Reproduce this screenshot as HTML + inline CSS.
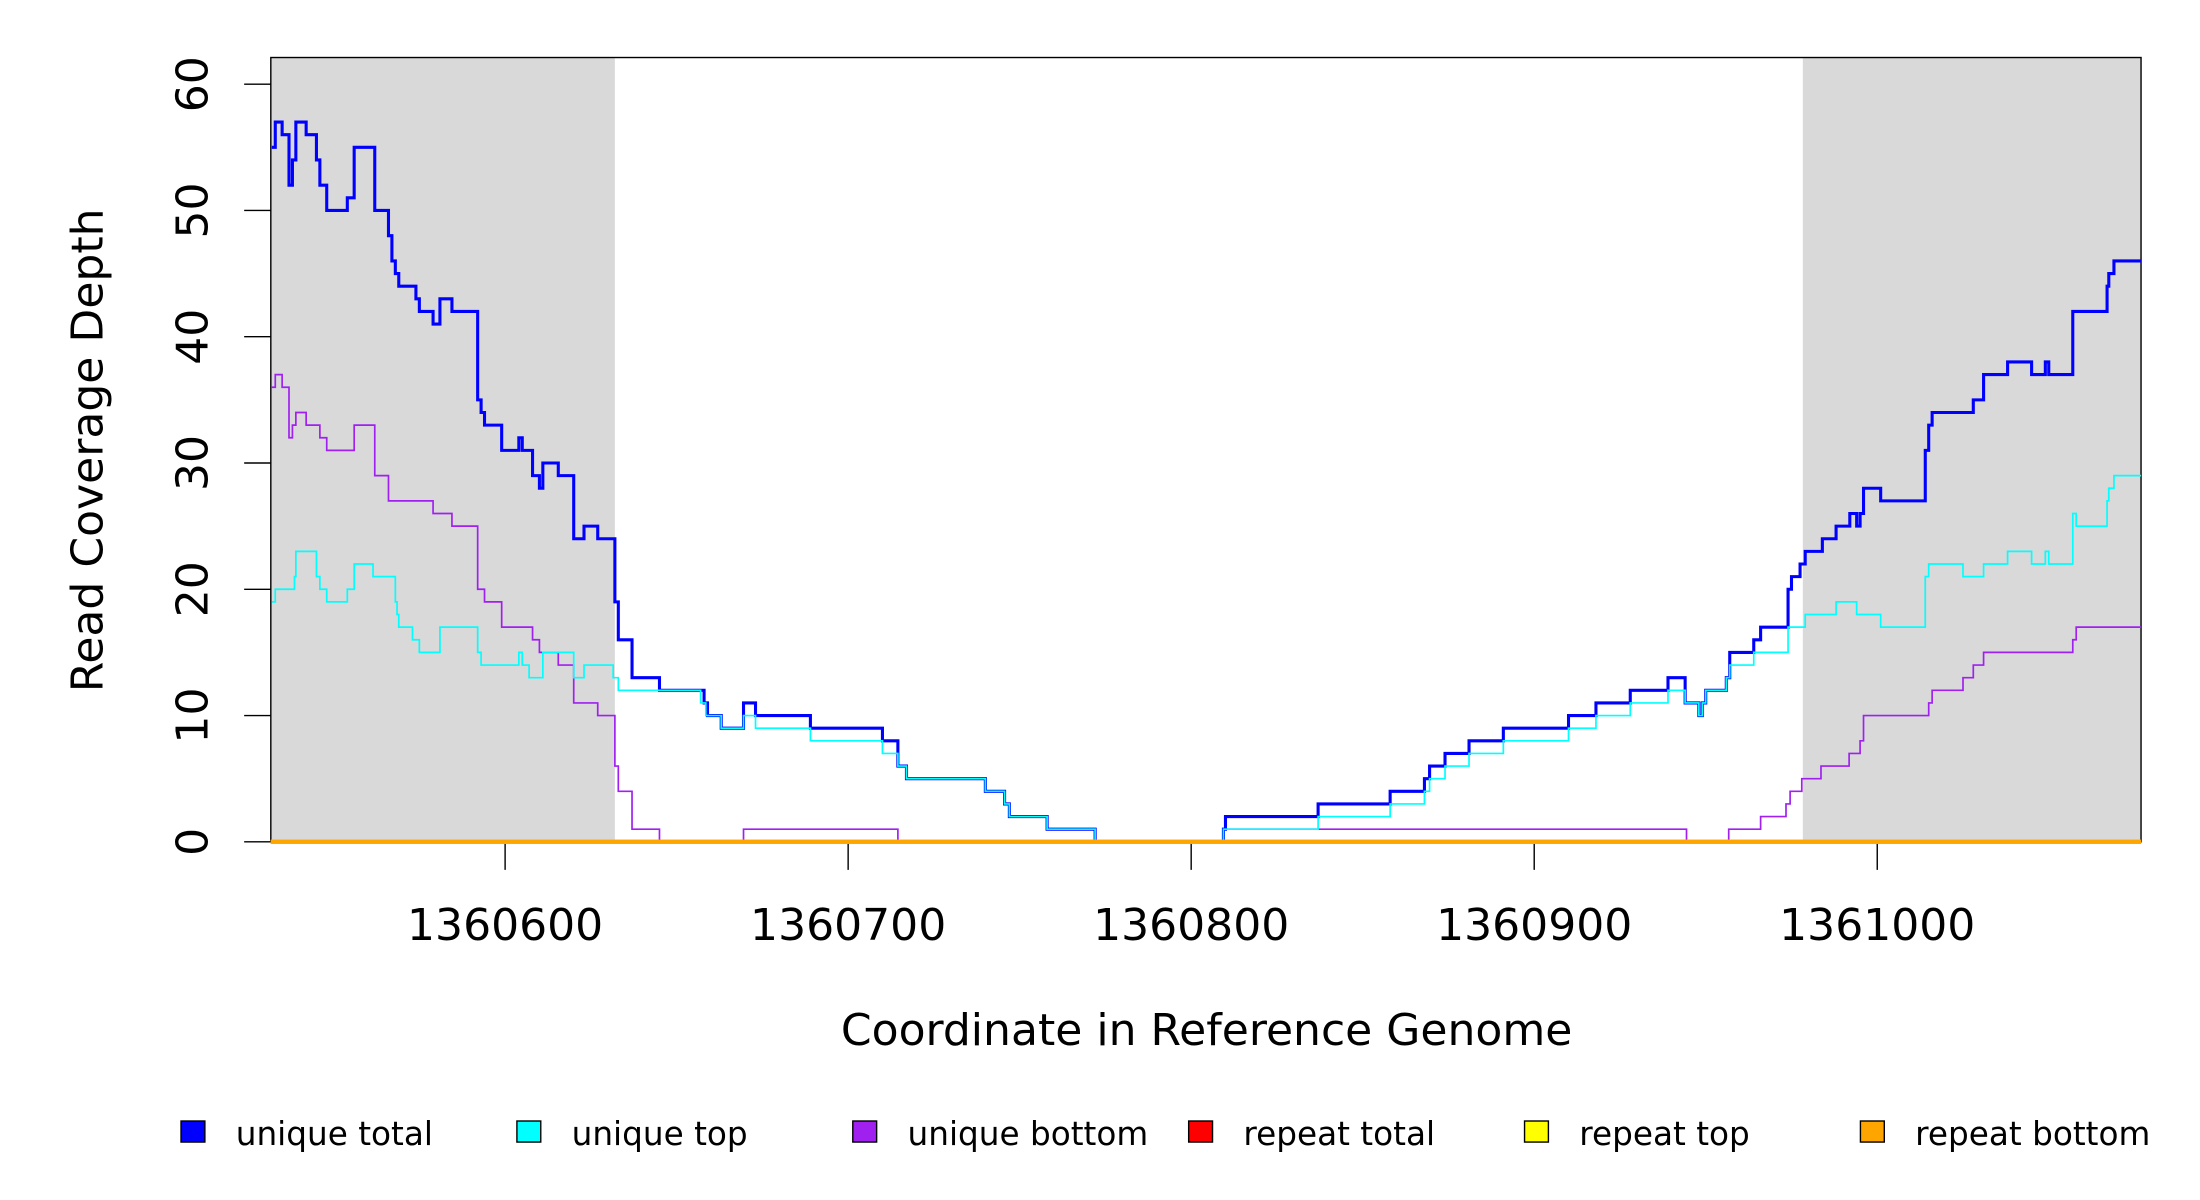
<!DOCTYPE html>
<html><head><meta charset="utf-8"><style>
html,body{margin:0;padding:0;background:#fff;}
svg{display:block;font-family:"DejaVu Sans","Liberation Sans",sans-serif;}
</style></head><body>
<svg id="chart" width="2200" height="1200" viewBox="0 0 1568 855.3" xmlns="http://www.w3.org/2000/svg">
<g id="bg"></g>
<rect x="193" y="41" width="1333" height="559" fill="none" stroke="#000" stroke-width="1"/>
<g id="axes"></g>
<g id="series"></g>
<text x="860" y="745" font-size="31.4" text-anchor="middle">Coordinate in Reference Genome</text>
<text transform="translate(73,321) rotate(-90)" font-size="31.4" text-anchor="middle">Read Coverage Depth</text>
<g id="legend"></g>
</svg>
<script>
const base = 1360000;
const xTicks = [1360600, 1360700, 1360800, 1360900, 1361000];
const yTicks = [0, 10, 20, 30, 40, 50, 60];
const shaded = [[531.7, 632], [978.3, 1076.9]];
const totalX = [532,533,535,537,538,539,542,545,546,548,554,556,562,566,567,568,569,574,575,579,581,584.5,592,593,594,599,604,605,608,610,611,615.5,620,623,627,632,633,637,645,658,659,663,669.5,673,689,710,714.5,717,740,745.6,747,758,772,809.4,810,837,858,868,869.5,874,881,891,910,918,928,939,944,948,949,950,956,957,964,966,974,975,977.5,979,984,988,992,994,995,996,1001,1014,1015,1016,1028,1031,1038,1045,1049,1050,1057,1067,1067.5,1069];
const totalY = [55,57,56,52,54,57,56,54,52,50,51,55,50,48,46,45,44,43,42,41,43,42,35,34,33,31,32,31,29,28,30,29,24,25,24,19,16,13,12,11,10,9,11,10,9,8,6,5,4,3,2,1,0,1,2,3,4,5,6,7,8,9,10,11,12,13,11,10,11,12,13,15,16,17,20,21,22,23,24,25,26,25,26,28,27,31,33,34,35,37,38,37,38,37,42,44,45,46];
const topX = [532,533,538.6,539,545,546,548,554,556,561.5,568,568.5,569,573,575,581,592,593,604,605,607,611,616,620,623,631.5,633,645,657,658.5,663,669.5,673,689,710,714.5,717,740,745.6,747,758,772,809.4,837,858,868,869.5,874,881,891,910,918,928,939,944,948,949,950,956,957,964,974,979,988,994,1001,1014,1015,1025,1031,1038,1045,1049,1050,1057,1058,1067,1067.5,1069];
const topY = [19,20,21,23,21,20,19,20,22,21,19,18,17,16,15,17,15,14,15,14,13,15,15,13,14,13,12,12,11,10,9,10,9,8,7,6,5,4,3,2,1,0,1,2,3,4,5,6,7,8,9,10,11,12,11,10,11,12,13,14,15,17,18,19,18,17,21,22,21,22,23,22,23,22,26,25,27,28,29];
const botX = [532,533,535,537,538,539,542,546,548,556,562,566,579,584.5,592,594,599,608,610,615.5,620,627,632,633,637,645,669.5,714.5,809.4,944.4,956.7,966,973.4,974.6,978,983.6,991.8,995,996,1015,1016,1025,1028,1031,1057,1058];
const botY = [36,37,36,32,33,34,33,32,31,33,29,27,26,25,20,19,17,16,15,14,11,10,6,4,1,0,1,0,1,0,1,2,3,4,5,6,7,8,10,11,12,13,14,15,16,17];
const repeatX = [531.7];
const repeatY = [0];
const legendLabels = ["unique total","unique top","unique bottom","repeat total","repeat top","repeat bottom"];
const legendColors = ["#0000ff","#00ffff","#a020f0","#ff0000","#ffff00","#ffa500"];

const NS = "http://www.w3.org/2000/svg";
const X0 = 531.7, X1 = 1076.9, PX0 = 193, PX1 = 1526;
function sx(c){ return PX0 + (c - X0) / (X1 - X0) * (PX1 - PX0); }
function sy(v){ return 600 - v * 9; }
function mk(tag, attrs, parent){ const e = document.createElementNS(NS, tag); for (const k in attrs) e.setAttribute(k, attrs[k]); parent.appendChild(e); return e; }

const bg = document.getElementById('bg');
shaded.forEach(r => {
  const e = mk('rect', {x: sx(r[0]), y: 41, width: sx(r[1]) - sx(r[0]), height: 559, fill: '#d9d9d9'}, bg);
  
  
});

function step(xs, ys, color, w, name){
  let d = 'M' + sx(xs[0]) + ' ' + sy(ys[0]);
  for (let i = 1; i < xs.length; i++){ d += ' H' + sx(xs[i]) + ' V' + sy(ys[i]); }
  d += ' H' + PX1;
  const p = mk('path', {d: d, fill: 'none', stroke: color, 'stroke-width': w}, document.getElementById('series'));
  
  
}
step(botX, botY, '#a020f0', 1.2, 'unique-bottom-line');
step(totalX, totalY, '#0000ff', 2.2, 'unique-total-line');
step(topX, topY, '#00ffff', 1.2, 'unique-top-line');
step(repeatX, repeatY, '#ff0000', 3, 'repeat-total-line');
step(repeatX, repeatY, '#ffff00', 3, 'repeat-top-line');
step(repeatX, repeatY, '#ffa500', 3, 'repeat-bottom-line');

const ax = document.getElementById('axes');
xTicks.forEach(t => {
  const l = mk('line', {x1: sx(t - base), x2: sx(t - base), y1: 600, y2: 620, stroke: '#000'}, ax);
  
  
  const tx = mk('text', {x: sx(t - base), y: 670, 'font-size': 31.4, 'text-anchor': 'middle'}, ax);
  tx.textContent = t;
  
  
});
yTicks.forEach(t => {
  const l = mk('line', {x1: 174, x2: 193, y1: sy(t), y2: sy(t), stroke: '#000'}, ax);
  
  
  const tx = mk('text', {transform: 'translate(148,' + sy(t) + ') rotate(-90)', 'font-size': 31.4, 'text-anchor': 'middle'}, ax);
  tx.textContent = t;
  
  
});

const lg = document.getElementById('legend');
legendLabels.forEach((lab, i) => {
  const x = 129 + i * 239.4;
  const r = mk('rect', {x: x, y: 799, width: 17, height: 15, fill: legendColors[i], stroke: '#000', 'stroke-width': 1}, lg);
  
  
  const t = mk('text', {x: x + 39, y: 816, 'font-size': 23.3}, lg);
  t.textContent = lab;
  
  
});
</script>
</body></html>
